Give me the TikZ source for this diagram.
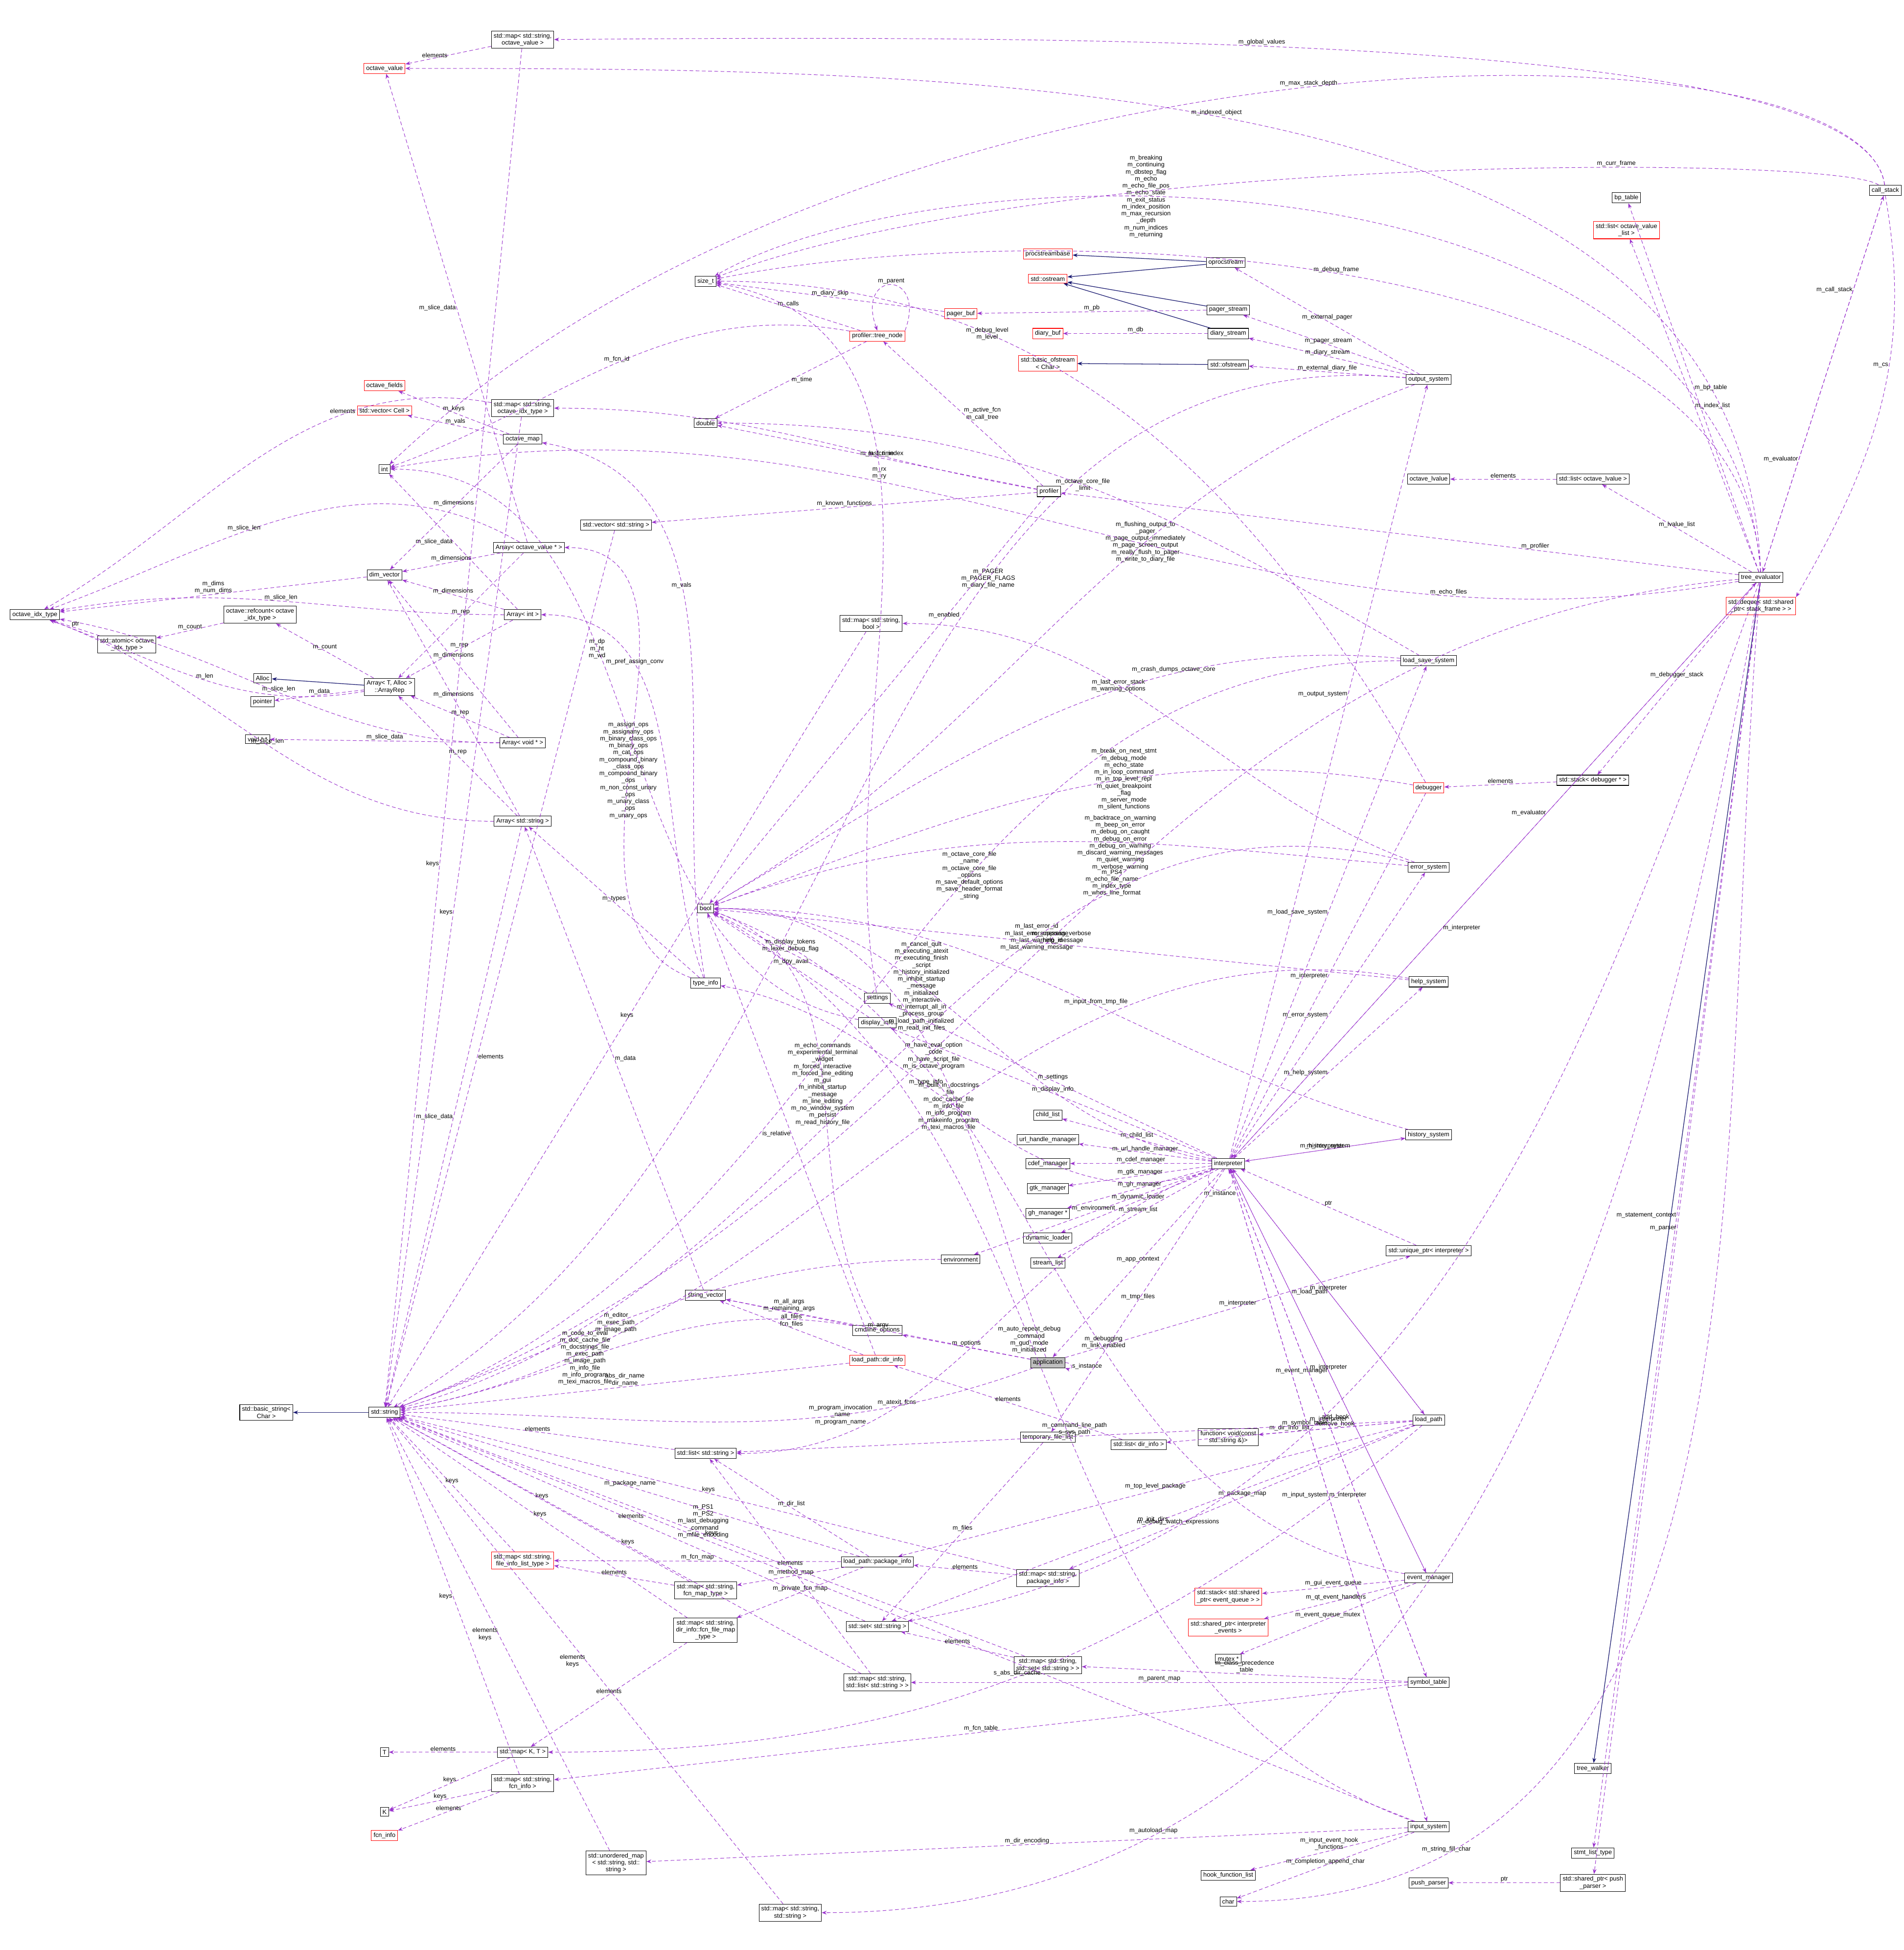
\documentclass[tikz,border=0pt]{standalone}
\usepackage{fontspec}
\setmainfont{Liberation Sans}
\usetikzlibrary{arrows.meta}
\definecolor{dp}{HTML}{9A32CD}
\definecolor{ih}{HTML}{191970}
\begin{document}
\begin{tikzpicture}[x=0.2pt,y=-0.2pt,
 bx/.style={draw=black,fill=white,font=\fontsize{1}{1.12}\selectfont,inner sep=0.36pt,align=center,line width=0.08pt},
 rb/.style={bx,draw=red},
 gb/.style={bx,fill=black!25},
 dep/.style={draw=dp,dashed,dash pattern=on 0.6pt off 0.4pt,-{Stealth[length=0.8pt,width=0.6pt]},line width=0.08pt},
 inh/.style={draw=ih,-{Stealth[length=0.8pt,width=0.6pt]},line width=0.1pt},
 lb/.style={font=\fontsize{1}{1.12}\selectfont,align=center,inner sep=0.1pt}]
\useasboundingbox (0,0) rectangle (1530,1567);
% nodes
\node[bx] (oit) at (28,494) {octave\_idx\_type};
\node[bx] (atom) at (102,518) {std::atomic< octave\\\_idx\_type >};
\node[bx] (refc) at (209,494) {octave::refcount< octave\\\_idx\_type >};
\node[bx] (alloc) at (211,545) {Alloc};
\node[bx] (ptr) at (211,564) {pointer};
\node[bx] (vpp) at (207,594) {void * *};
\node[bx] (rep) at (313,552) {Array< T, Alloc >\\::ArrayRep};
\node[bx] (dimv) at (309,462) {dim\_vector};
\node[bx] (int) at (309,377) {int};
\node[rb] (ov) at (309,55) {octave\_value};
\node[rb] (ofl) at (309,310) {octave\_fields};
\node[rb] (vcell) at (309,330) {std::vector< Cell >};
\node[bx] (mapov) at (420,32) {std::map< std::string,\\octave\_value >};
\node[bx] (mapidx) at (420,328) {std::map< std::string,\\octave\_idx\_type >};
\node[bx] (omap) at (420,353) {octave\_map};
\node[bx] (aovp) at (425,440) {Array< octave\_value * >};
\node[bx] (aint) at (420,494) {Array< int >};
\node[bx] (avoid) at (420,597) {Array< void * >};
\node[bx] (astr) at (420,660) {Array< std::string >};
\node[bx] (vstr) at (495,422) {std::vector< std::string >};
\node[bx] (mapbool) at (700,501) {std::map< std::string,\\bool >};
\node[bx] (str) at (309,1135) {std::string};
\node[bx] (bstr) at (214,1135) {std::basic\_string<\\Char >};
\node[bx] (tinfo) at (567,790) {type\_info};
\node[bx] (sizet) at (567,226) {size\_t};
\node[bx] (dbl) at (567,340) {double};
\node[bx] (bool) at (567,730) {bool};
\node[bx] (sv) at (567,1041) {string\_vector};
\node[rb] (psb) at (842,204) {procstreambase};
\node[rb] (ost) at (842,224) {std::ostream};
\node[rb] (pbuf) at (772,252) {pager\_buf};
\node[rb] (dbuf) at (842,268) {diary\_buf};
\node[rb] (bof) at (842,292) {std::basic\_ofstream\\< Char >};
\node[rb] (tnode) at (705,270) {profiler::tree\_node};
\node[bx] (opr) at (985,211) {oprocstream};
\node[bx] (pst) at (987,249) {pager\_stream};
\node[bx] (dst) at (987,268) {diary\_stream};
\node[bx] (ofs) at (987,293) {std::ofstream};
\node[bx] (out) at (1148,305) {output\_system};
\node[bx] (prof) at (843,395) {profiler};
\node[bx] (set) at (705,802) {settings};
\node[bx] (disp) at (705,822) {display\_info};
\node[bx] (chl) at (842,896) {child\_list};
\node[bx] (url) at (842,916) {url\_handle\_manager};
\node[bx] (cdef) at (842,935) {cdef\_manager};
\node[bx] (gtk) at (842,955) {gtk\_manager};
\node[bx] (gh) at (842,975) {gh\_manager *};
\node[bx] (dyn) at (842,995) {dynamic\_loader};
\node[bx] (sl) at (842,1015) {stream\_list};
\node[bx] (env) at (772,1012) {environment};
\node[bx] (cmd) at (705,1069) {cmdline\_options};
\node[gb] (app) at (842,1095) {application};
\node[rb] (dinfo) at (705,1093) {load\_path::dir\_info};
\node[bx] (interp) at (987,935) {interpreter};
\node[bx] (lss) at (1148,531) {load\_save\_system};
\node[rb] (dbg) at (1148,633) {debugger};
\node[bx] (err) at (1148,697) {error\_system};
\node[bx] (help) at (1148,789) {help\_system};
\node[bx] (hist) at (1148,912) {history\_system};
\node[bx] (uptr) at (1148,1005) {std::unique\_ptr< interpreter >};
\node[bx] (lp) at (1148,1141) {load\_path};
\node[bx] (evm) at (1148,1268) {event\_manager};
\node[bx] (symt) at (1148,1352) {symbol\_table};
\node[bx] (inp) at (1148,1468) {input\_system};
\node[bx] (tfl) at (842,1155) {temporary\_file\_list};
\node[bx] (ldir) at (915,1161) {std::list< dir\_info >};
\node[bx] (fn) at (987,1155) {function< void(const\\std::string \&)>};
\node[rb] (steq) at (987,1283) {std::stack< std::shared\\\_ptr< event\_queue > >};
\node[rb] (shie) at (987,1308) {std::shared\_ptr< interpreter\\\_events >};
\node[bx] (mtx) at (987,1333) {mutex *};
\node[bx] (hfl) at (987,1507) {hook\_function\_list};
\node[bx] (chr) at (987,1528) {char};
\node[bx] (lstr) at (567,1168) {std::list< std::string >};
\node[bx] (pkg) at (705,1255) {load\_path::package\_info};
\node[bx] (mpkg) at (842,1268) {std::map< std::string,\\package\_info >};
\node[rb] (mfl) at (420,1254) {std::map< std::string,\\file\_info\_list\_type >};
\node[bx] (mfm) at (567,1278) {std::map< std::string,\\fcn\_map\_type >};
\node[bx] (mdi) at (567,1310) {std::map< std::string,\\dir\_info::fcn\_file\_map\\\_type >};
\node[bx] (sstr) at (705,1307) {std::set< std::string >};
\node[bx] (mls) at (705,1352) {std::map< std::string,\\std::list< std::string > >};
\node[bx] (mss) at (842,1338) {std::map< std::string,\\std::set< std::string > >};
\node[bx] (mkt) at (420,1408) {std::map< K, T >};
\node[bx] (T) at (309,1408) {T};
\node[bx] (mfi) at (420,1433) {std::map< std::string,\\fcn\_info >};
\node[bx] (K) at (309,1456) {K};
\node[rb] (fi) at (309,1475) {fcn\_info};
\node[bx] (um) at (495,1497) {std::unordered\_map\\< std::string, std::\\string >};
\node[bx] (mstr) at (635,1537) {std::map< std::string,\\std::string >};
\node[bx] (te) at (1415,464) {tree\_evaluator};
\node[rb] (deq) at (1415,487) {std::deque< std::shared\\\_ptr< stack\_frame > >};
\node[bx] (cs) at (1515,153) {call\_stack};
\node[bx] (bpt) at (1307,159) {bp\_table};
\node[rb] (lovl) at (1307,185) {std::list< octave\_value\\\_list >};
\node[bx] (olv) at (1148,385) {octave\_lvalue};
\node[bx] (llv) at (1280,385) {std::list< octave\_lvalue >};
\node[bx] (sdbg) at (1280,627) {std::stack< debugger * >};
\node[bx] (tw) at (1280,1421) {tree\_walker};
\node[bx] (stl) at (1280,1489) {stmt\_list\_type};
\node[bx] (spp) at (1280,1513) {std::shared\_ptr< push\\\_parser >};
\node[bx] (pp) at (1148,1513) {push\_parser};
% inheritance
\draw[inh] (opr) -- (psb);
\draw[inh] (opr) -- (ost);
\draw[inh] (pst) -- (ost);
\draw[inh] (dst) -- (ost);
\draw[inh] (ofs) -- (bof);
\draw[inh] (rep) -- (alloc);
\draw[inh] (str) -- (bstr);
\draw[inh] (te) -- (tw);
% dependencies
\draw[dep] (mapov) -- node[lb,left]{elements} (ov);
\draw[dep] (cs) .. controls (1500,30) and (900,28) .. node[lb,above,pos=0.6]{m\_global\_values} (mapov);
\draw[dep] (cs) .. controls (1495,8) and (700,5) .. node[lb,above,pos=0.5]{m\_max\_stack\_depth} (int);
\draw[dep] (te) .. controls (1400,60) and (800,55) .. node[lb,above,pos=0.55]{m\_indexed\_object} (ov);
\draw[dep] (te) .. controls (1390,110) and (760,115) .. node[lb,pos=0.62]{m\_breaking\\m\_continuing\\m\_dbstep\_flag\\m\_echo\\m\_echo\_file\_pos\\m\_echo\_state\\m\_exit\_status\\m\_index\_position\\m\_max\_recursion\\\_depth\\m\_num\_indices\\m\_returning} (sizet);
\draw[dep] (cs) .. controls (1480,125) and (850,120) .. node[lb,above,pos=0.35]{m\_curr\_frame} (sizet);
\draw[dep] (te) .. controls (1400,180) and (800,178) .. node[lb,above,pos=0.5]{m\_debug\_frame} (sizet);
\draw[dep] (te) -- node[lb,right]{m\_bp\_table} (bpt);
\draw[dep] (te) -- node[lb,right]{m\_index\_list} (lovl);
\draw[dep] (te) -- node[lb,left,pos=0.75]{m\_call\_stack} (cs);
\draw[dep] (cs) -- node[lb,left,pos=0.7]{m\_evaluator} (te);
\draw[dep] (cs.south) to[out=-80,in=60] node[lb,left,pos=0.4]{m\_cs} (deq.north east);
\draw[dep] (pbuf) -- node[lb,above]{m\_diary\_skip} (sizet);
\draw[dep] (pst) -- node[lb,above]{m\_pb} (pbuf);
\draw[dep] (dst) -- node[lb,above]{m\_db} (dbuf);
\draw[dep] (out) -- node[lb,above]{m\_external\_pager} (opr);
\draw[dep] (out) -- node[lb,above]{m\_pager\_stream} (pst);
\draw[dep] (out) -- node[lb,above]{m\_diary\_stream} (dst);
\draw[dep] (out) -- node[lb,above]{m\_external\_diary\_file} (ofs);
\draw[dep] (tnode) -- node[lb,above]{m\_calls} (sizet);
\draw[dep] (tnode.north east) to[out=70,in=110,looseness=6] node[lb,above]{m\_parent} (tnode.north);
\draw[dep] (tnode) -- node[lb,right]{m\_time} (dbl);
\draw[dep] (tnode) to[out=170,in=20] node[lb,above]{m\_fcn\_id} (int);
\draw[dep] (mapidx) to[out=170,in=30] node[lb,above,pos=0.3]{elements} (oit);
\draw[dep] (out) to[out=175,in=30] node[lb,pos=0.35]{m\_PAGER\\m\_PAGER\_FLAGS\\m\_diary\_file\_name} (str);
\draw[dep] (prof) -- node[lb,right]{m\_active\_fcn\\m\_call\_tree} (tnode);
\draw[dep] (prof) -- node[lb,above]{m\_last\_time} (dbl);
\draw[dep] (prof) to[out=170,in=0] node[lb,above,pos=0.3]{m\_fcn\_index} (mapidx);
\draw[dep] (prof) -- node[lb,above]{m\_known\_functions} (vstr);
\draw[dep] (prof) -- node[lb,above,pos=0.3]{m\_enabled} (bool);
\draw[dep] (out) to[out=200,in=30] node[lb,pos=0.35]{m\_flushing\_output\_to\\\_pager\\m\_page\_output\_immediately\\m\_page\_screen\_output\\m\_really\_flush\_to\_pager\\m\_write\_to\_diary\_file} (bool);
\draw[dep] (te) -- node[lb,above,pos=0.3]{m\_profiler} (prof);
\draw[dep] (te) -- node[lb,above]{m\_lvalue\_list} (llv);
\draw[dep] (llv) -- node[lb,above]{elements} (olv);
\draw[dep] (te) to[out=185,in=20] node[lb,pos=0.45]{m\_PS4\\m\_echo\_file\_name\\m\_index\_type\\m\_whos\_line\_format} (str);
\draw[dep] (te) to[out=190,in=10] node[lb,above,pos=0.2]{m\_echo\_files} (int);
\draw[dep] (err) to[out=160,in=0] node[lb,pos=0.6]{m\_last\_error\_stack\\m\_warning\_options} (mapbool);
\draw[dep] (lss) to[out=150,in=0] node[lb,pos=0.5]{m\_octave\_core\_file\\\_limit} (dbl);
\draw[dep] (lss) to[out=180,in=20] node[lb,pos=0.4]{m\_octave\_core\_file\\\_name\\m\_octave\_core\_file\\\_options\\m\_save\_default\_options\\m\_save\_header\_format\\\_string} (str);
\draw[dep] (lss) to[out=175,in=30] node[lb,above,pos=0.3]{m\_crash\_dumps\_octave\_core} (bool);
\draw[dep] (dbg) to[out=120,in=0] node[lb,pos=0.7]{m\_debug\_level\\m\_level} (sizet);
\draw[dep] (dbg) -- node[lb,left]{m\_interpreter} (interp);
\draw[dep] (te) -- node[lb,above]{m\_debugger\_stack} (sdbg);
\draw[dep] (sdbg) -- node[lb,above]{elements} (dbg);
\draw[dep] (dbg) to[out=170,in=20] node[lb,pos=0.4]{m\_break\_on\_next\_stmt\\m\_debug\_mode\\m\_echo\_state\\m\_in\_loop\_command\\m\_in\_top\_level\_repl\\m\_quiet\_breakpoint\\\_flag\\m\_server\_mode\\m\_silent\_functions} (bool);
\draw[dep] (err) to[out=175,in=20] node[lb,pos=0.4]{m\_backtrace\_on\_warning\\m\_beep\_on\_error\\m\_debug\_on\_caught\\m\_debug\_on\_error\\m\_debug\_on\_warning\\m\_discard\_warning\_messages\\m\_quiet\_warning\\m\_verbose\_warning} (bool);
\draw[dep] (err) to[out=165,in=15] node[lb,pos=0.35]{m\_last\_error\_id\\m\_last\_error\_message\\m\_last\_warning\_id\\m\_last\_warning\_message} (str);
\draw[dep] (help) -- node[lb,above]{m\_suppress\_verbose\\\_help\_message} (bool);
\draw[dep] (help) to[out=170,in=10] node[lb,pos=0.45]{m\_built\_in\_docstrings\\\_file\\m\_doc\_cache\_file\\m\_info\_file\\m\_info\_program\\m\_makeinfo\_program\\m\_texi\_macros\_file} (str);
\draw[dep] (hist) to[out=165,in=0] node[lb,above,pos=0.45]{m\_input\_from\_tmp\_file} (bool);
\draw[dep] (hist) -- node[lb,above]{m\_interpreter} (interp);
\draw[dep] (interp) -- node[lb,above]{m\_settings} (set);
\draw[dep] (interp) -- node[lb,above]{m\_display\_info} (disp);
\draw[dep] (interp) -- node[lb,above]{m\_child\_list} (chl);
\draw[dep] (interp) -- node[lb,above]{m\_url\_handle\_manager} (url);
\draw[dep] (interp) -- node[lb,above]{m\_cdef\_manager} (cdef);
\draw[dep] (interp) -- node[lb,above]{m\_gtk\_manager} (gtk);
\draw[dep] (interp) -- node[lb,above]{m\_gh\_manager} (gh);
\draw[dep] (interp) -- node[lb,above]{m\_dynamic\_loader} (dyn);
\draw[dep] (interp) -- node[lb,above]{m\_stream\_list} (sl);
\draw[dep] (interp) -- node[lb,above]{m\_environment} (env);
\draw[dep] (interp) -- node[lb,left]{m\_load\_save\_system} (lss);
\draw[dep] (interp) -- node[lb,left]{m\_error\_system} (err);
\draw[dep] (interp) -- node[lb,left]{m\_help\_system} (help);
\draw[dep] (interp) -- node[lb,above]{m\_history\_system} (hist);
\draw[dep] (interp) -- node[lb,left,pos=0.6]{m\_output\_system} (out);
\draw[dep] (interp) -- node[lb,left]{m\_load\_path} (lp);
\draw[dep] (interp) -- node[lb,left]{m\_event\_manager} (evm);
\draw[dep] (interp) -- node[lb,left]{m\_symbol\_table} (symt);
\draw[dep] (interp) -- node[lb,left]{m\_input\_system} (inp);
\draw[dep] (interp) -- node[lb,left,pos=0.6]{m\_evaluator} (te);
\draw[dep] (te) -- node[lb,right,pos=0.6]{m\_interpreter} (interp);
\draw[dep] (interp) to[out=170,in=0] node[lb,pos=0.6]{m\_cancel\_quit\\m\_executing\_atexit\\m\_executing\_finish\\\_script\\m\_history\_initialized\\m\_inhibit\_startup\\\_message\\m\_initialized\\m\_interactive\\m\_interrupt\_all\_in\\\_process\_group\\m\_load\_path\_initialized\\m\_read\_init\_files} (bool);
\draw[dep] (interp) -- node[lb,above]{m\_tmp\_files} (tfl);
\draw[dep] (interp) to[out=200,in=0] node[lb,above,pos=0.7]{m\_atexit\_fcns} (lstr);
\draw[dep] (interp) -- node[lb,above]{m\_app\_context} (app);
\draw[dep] (interp.south west) to[out=-120,in=-60,looseness=5] node[lb,below]{m\_instance} (interp.south);
\draw[dep] (app) -- node[lb,above]{m\_interpreter} (uptr);
\draw[dep] (uptr) -- node[lb,above]{ptr} (interp);
\draw[dep] (app) -- node[lb,above]{m\_options} (cmd);
\draw[dep] (app) -- node[lb,above]{m\_argv} (sv);
\draw[dep] (app) to[out=200,in=0] node[lb,pos=0.3]{m\_program\_invocation\\\_name\\m\_program\_name} (str);
\draw[dep] (app.east) to[out=0,in=-20,looseness=4] node[lb,right]{s\_instance} (app.south east);
\draw[dep] (app) to[out=110,in=0] node[lb,pos=0.5]{m\_have\_eval\_option\\\_code\\m\_have\_script\_file\\m\_is\_octave\_program} (bool);
\draw[dep] (cmd) -- node[lb,above]{m\_all\_args\\m\_remaining\_args} (sv);
\draw[dep] (cmd) to[out=120,in=-20] node[lb,pos=0.5]{m\_echo\_commands\\m\_experimental\_terminal\\\_widget\\m\_forced\_interactive\\m\_forced\_line\_editing\\m\_gui\\m\_inhibit\_startup\\\_message\\m\_line\_editing\\m\_no\_window\_system\\m\_persist\\m\_read\_history\_file} (bool);
\draw[dep] (cmd) to[out=170,in=10] node[lb,pos=0.6]{m\_code\_to\_eval\\m\_doc\_cache\_file\\m\_docstrings\_file\\m\_exec\_path\\m\_image\_path\\m\_info\_file\\m\_info\_program\\m\_texi\_macros\_file} (str);
\draw[dep] (env) to[out=180,in=20] node[lb,pos=0.6]{m\_editor\\m\_exec\_path\\m\_image\_path} (str);
\draw[dep] (disp) -- node[lb,above]{m\_dpy\_avail} (bool);
\draw[dep] (disp) to[out=170,in=0] node[lb,pos=0.6]{m\_dp\\m\_ht\\m\_wd} (int);
\draw[dep] (set) -- node[lb,above]{m\_display\_tokens\\m\_lexer\_debug\_flag} (bool);
\draw[dep] (set) to[out=100,in=-10] node[lb,pos=0.6]{m\_rx\\m\_ry} (sizet);
\draw[dep] (tinfo) -- node[lb,above]{m\_types} (astr);
\draw[dep] (tinfo) to[out=160,in=0] node[lb,pos=0.45]{m\_assign\_ops\\m\_assignany\_ops\\m\_binary\_class\_ops\\m\_binary\_ops\\m\_cat\_ops\\m\_compound\_binary\\\_class\_ops\\m\_compound\_binary\\\_ops\\m\_non\_const\_unary\\\_ops\\m\_unary\_class\\\_ops\\m\_unary\_ops} (aovp);
\draw[dep] (tinfo) to[out=110,in=0] node[lb,above,pos=0.7]{m\_pref\_assign\_conv} (aint);
\draw[dep] (tinfo) to[out=100,in=-10] node[lb,pos=0.6]{m\_vals} (omap);
\draw[dep] (interp) to[out=200,in=-10] node[lb,above,pos=0.6]{m\_type\_info} (tinfo);
\draw[dep] (aovp) -- node[lb,above]{m\_dimensions} (dimv);
\draw[dep] (aint) -- node[lb,above]{m\_dimensions} (dimv);
\draw[dep] (avoid) -- node[lb,above]{m\_dimensions} (dimv);
\draw[dep] (astr) -- node[lb,above]{m\_dimensions} (dimv);
\draw[dep] (aovp) -- node[lb,above]{m\_rep} (rep);
\draw[dep] (aint) -- node[lb,above]{m\_rep} (rep);
\draw[dep] (avoid) -- node[lb,above]{m\_rep} (rep);
\draw[dep] (astr) -- node[lb,above]{m\_rep} (rep);
\draw[dep] (aint) to[out=180,in=10] node[lb,above,pos=0.5]{m\_slice\_len} (oit);
\draw[dep] (avoid) to[out=180,in=-10] node[lb,above,pos=0.5]{m\_slice\_len} (oit);
\draw[dep] (astr) to[out=180,in=-20] node[lb,above,pos=0.5]{m\_slice\_len} (oit);
\draw[dep] (aovp) to[out=150,in=20] node[lb,above,pos=0.6]{m\_slice\_len} (oit);
\draw[dep] (aint) -- node[lb,left]{m\_slice\_data} (int);
\draw[dep] (avoid) -- node[lb,above]{m\_slice\_data} (vpp);
\draw[dep] (aovp) -- node[lb,left]{m\_slice\_data} (ov);
\draw[dep] (astr) -- node[lb,left]{m\_slice\_data} (str);
\draw[dep] (rep) -- node[lb,above]{m\_data} (ptr);
\draw[dep] (rep) to[out=190,in=-20] node[lb,above]{m\_len} (oit);
\draw[dep] (rep) -- node[lb,above]{m\_count} (refc);
\draw[dep] (refc) -- node[lb,above]{m\_count} (atom);
\draw[dep] (atom) -- node[lb,above]{ptr} (oit);
\draw[dep] (dimv) -- node[lb,above]{m\_dims\\m\_num\_dims} (oit);
\draw[dep] (omap) -- node[lb,above]{m\_keys} (ofl);
\draw[dep] (omap) -- node[lb,above]{m\_vals} (vcell);
\draw[dep] (omap) -- node[lb,above]{m\_dimensions} (dimv);
\draw[dep] (mapidx) -- node[lb,left]{keys} (str);
\draw[dep] (mapov) -- node[lb,left,pos=0.6]{keys} (str);
\draw[dep] (mapbool) -- node[lb,above]{keys} (str);
\draw[dep] (vstr) -- node[lb,right,pos=0.6]{elements} (str);
\draw[dep] (sv) -- node[lb,right]{m\_data} (astr);
\draw[dep] (dinfo) -- node[lb,above]{abs\_dir\_name\\dir\_name} (str);
\draw[dep] (dinfo) -- node[lb,above]{all\_files\\fcn\_files} (sv);
\draw[dep] (dinfo) -- node[lb,left]{is\_relative} (bool);
\draw[dep] (lstr) -- node[lb,above]{elements} (str);
\draw[dep] (ldir) -- node[lb,above]{elements} (dinfo);
\draw[dep] (lp) -- node[lb,above]{m\_dir\_info\_list} (ldir);
\draw[dep] (lp) -- node[lb,above]{add\_hook\\remove\_hook} (fn);
\draw[dep] (lp) -- node[lb,above]{m\_interpreter} (interp);
\draw[dep] (lp) -- node[lb,above]{m\_package\_map} (mpkg);
\draw[dep] (lp) -- node[lb,above]{m\_top\_level\_package} (pkg);
\draw[dep] (lp) -- node[lb,above]{m\_init\_dirs} (sstr);
\draw[dep] (lp) -- node[lb,above]{m\_command\_line\_path\\s\_sys\_path} (lstr);
\draw[dep] (lp) to[out=220,in=0] node[lb,above,pos=0.5]{s\_abs\_dir\_cache} (mkt);
\draw[dep] (pkg) -- node[lb,above]{m\_package\_name} (str);
\draw[dep] (pkg) -- node[lb,above]{m\_dir\_list} (lstr);
\draw[dep] (pkg) -- node[lb,above]{m\_fcn\_map} (mfl);
\draw[dep] (pkg) -- node[lb,above]{m\_method\_map} (mfm);
\draw[dep] (pkg) -- node[lb,above]{m\_private\_fcn\_map} (mdi);
\draw[dep] (mpkg) -- node[lb,above]{elements} (pkg);
\draw[dep] (mpkg) -- node[lb,above]{keys} (str);
\draw[dep] (mfl) -- node[lb,above]{keys} (str);
\draw[dep] (mfm) -- node[lb,above]{keys} (str);
\draw[dep] (mfm) -- node[lb,above]{elements} (mfl);
\draw[dep] (mdi) -- node[lb,above]{keys} (str);
\draw[dep] (mdi) -- node[lb,above]{elements} (mkt);
\draw[dep] (sstr) -- node[lb,above]{elements} (str);
\draw[dep] (mls) -- node[lb,above]{keys} (str);
\draw[dep] (mls) -- node[lb,above]{elements} (lstr);
\draw[dep] (mss) -- node[lb,above]{keys} (str);
\draw[dep] (mss) -- node[lb,above]{elements} (sstr);
\draw[dep] (tfl) -- node[lb,above]{m\_files} (sstr);
\draw[dep] (evm) -- node[lb,above]{m\_interpreter} (interp);
\draw[dep] (evm) -- node[lb,above]{m\_gui\_event\_queue} (steq);
\draw[dep] (evm) -- node[lb,above]{m\_qt\_event\_handlers} (shie);
\draw[dep] (evm) -- node[lb,above]{m\_event\_queue\_mutex} (mtx);
\draw[dep] (evm) to[out=170,in=-20] node[lb,above,pos=0.4]{m\_debugging\\m\_link\_enabled} (bool);
\draw[dep] (symt) -- node[lb,above]{m\_interpreter} (interp);
\draw[dep] (symt) -- node[lb,above]{m\_class\_precedence\\\_table} (mss);
\draw[dep] (symt) -- node[lb,above]{m\_parent\_map} (mls);
\draw[dep] (symt) -- node[lb,above]{m\_fcn\_table} (mfi);
\draw[dep] (inp) -- node[lb,right]{m\_interpreter} (interp);
\draw[dep] (inp) -- node[lb,above]{m\_input\_event\_hook\\\_functions} (hfl);
\draw[dep] (inp) -- node[lb,above]{m\_completion\_append\_char} (chr);
\draw[dep] (inp) -- node[lb,above,pos=0.7]{m\_PS1\\m\_PS2\\m\_last\_debugging\\\_command\\m\_mfile\_encoding} (str);
\draw[dep] (inp) -- node[lb,above]{m\_dir\_encoding} (um);
\draw[dep] (inp) to[out=160,in=-30] node[lb,pos=0.55]{m\_auto\_repeat\_debug\\\_command\\m\_gud\_mode\\m\_initialized} (bool);
\draw[dep] (te) -- node[lb,left]{m\_statement\_context} (stl);
\draw[dep] (te) -- node[lb,left]{m\_parser} (spp);
\draw[dep] (spp) -- node[lb,above]{ptr} (pp);
\draw[dep] (te) to[out=-100,in=0] node[lb,above,pos=0.8]{m\_autoload\_map} (mstr);
\draw[dep] (te) to[out=-95,in=0] node[lb,above,pos=0.85]{m\_string\_fill\_char} (chr);
\draw[dep] (te) to[out=-110,in=10] node[lb,above,pos=0.8]{m\_debug\_watch\_expressions} (sstr);
\draw[dep] (mstr) -- node[lb,left]{elements\\keys} (str);
\draw[dep] (um) -- node[lb,left]{elements\\keys} (str);
\draw[dep] (mfi) -- node[lb,above]{elements} (fi);
\draw[dep] (mfi) -- node[lb,above]{keys} (K);
\draw[dep] (mfi) -- node[lb,left]{keys} (str);
\draw[dep] (mkt) -- node[lb,above]{elements} (T);
\draw[dep] (mkt) -- node[lb,above]{keys} (K);
\end{tikzpicture}
\end{document}
